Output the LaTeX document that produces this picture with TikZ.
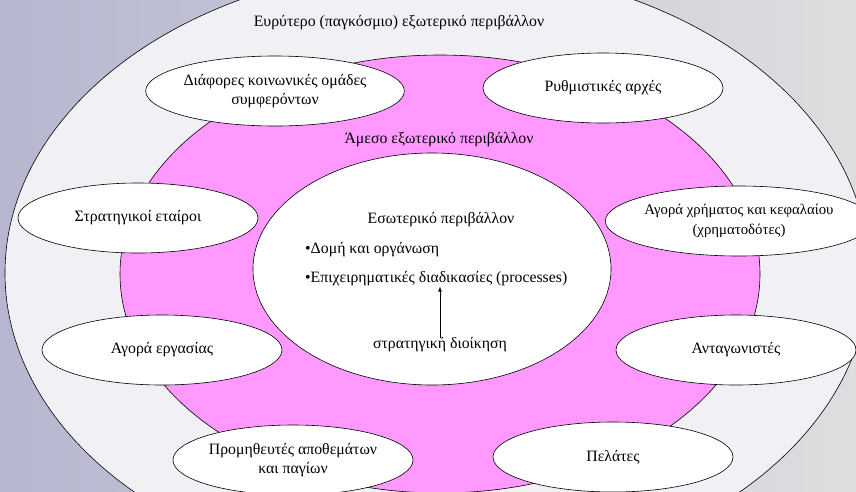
\documentclass[tikz,border=0pt]{standalone}
\usepackage{fontspec}
\setmainfont{Liberation Serif}
\usetikzlibrary{shapes.geometric}
\definecolor{hintergrundL}{RGB}{182,182,208}
\definecolor{hintergrundR}{RGB}{222,222,224}
\definecolor{aussen}{RGB}{240,240,245}
\definecolor{rosa}{RGB}{255,153,255}
\tikzset{
  umwelt/.style={ellipse,draw=black,fill=white,line width=0.6pt,minimum width=240pt,minimum height=70pt,inner sep=0pt,align=center},
  txt/.style={inner sep=0pt},
}
\begin{document}
\begin{tikzpicture}[x=1pt,y=-1pt,font=\fontsize{15.8}{19.5}\selectfont]
		\useasboundingbox (0,0) rectangle (856,491);
		\clip (0,0) rectangle (856,491);
		%%%% Hintergrund
		\shade[left color=hintergrundL,right color=hintergrundR] (0,0) rectangle (856,491);
		%%%% Ellipsen
		\filldraw[fill=aussen,draw=black,line width=0.6pt] (437,273) ellipse [x radius=432pt,y radius=307pt];
		\filldraw[fill=rosa,draw=black,line width=0.6pt] (440,274) ellipse [x radius=320pt,y radius=219pt];
		\filldraw[fill=white,draw=black,line width=0.6pt] (432,269) ellipse [x radius=179pt,y radius=116pt];
		% Titel
		\node[txt] (global) at (399,23) {Ευρύτερο (παγκόσμιο) εξωτερικό περιβάλλον};
		\node[txt] (amesos) at (439,140) {Άμεσο εξωτερικό περιβάλλον};
		\node[txt] (eso) at (441,220) {Εσωτερικό περιβάλλον};
		\node[txt,anchor=west] (domi) at (305,250) {•Δομή και οργάνωση};
		\node[txt,anchor=west] (proc) at (305,279) {•Επιχειρηματικές διαδικασίες (processes)};
		\node[txt] (dioik) at (440,345) {στρατηγική διοίκηση};
		\draw[-latex,line width=0.8pt] (dioik.north) -- (dioik.north |- proc.south);
		%%%% Umfeld
		\node[umwelt] (omades) at (275,91) {Διάφορες κοινωνικές ομάδες\\συμφερόντων};
		\node[umwelt] (arches) at (603,88) {Ρυθμιστικές αρχές};
		\node[umwelt] (etairoi) at (138,218) {Στρατηγικοί εταίροι};
		\node[umwelt,font=\fontsize{14.8}{19.5}\selectfont] (kefalaio) at (739,221) {Αγορά χρήματος και κεφαλαίου\\(χρηματοδότες)};
		\node[umwelt] (ergasia) at (162,350) {Αγορά εργασίας};
		\node[umwelt] (antag) at (736,350) {Ανταγωνιστές};
		\node[umwelt] (promith) at (293,460) {Προμηθευτές αποθεμάτων\\και παγίων};
		\node[umwelt] (pelates) at (613,457) {Πελάτες};
\end{tikzpicture}
\end{document}
